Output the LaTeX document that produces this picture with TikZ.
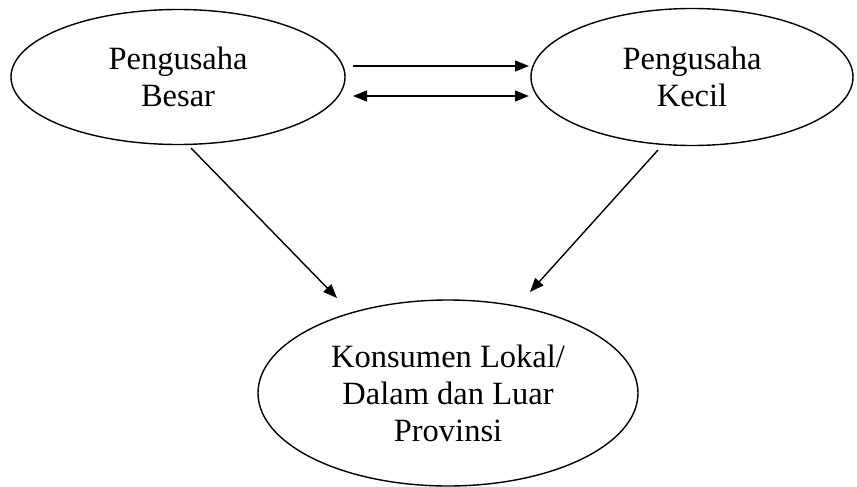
\documentclass[tikz,border=0pt]{standalone}
\usepackage{fontspec}
\setmainfont{Liberation Serif}
\usetikzlibrary{shapes.geometric,arrows.meta}
\begin{document}
\begin{tikzpicture}[x=1pt,y=-1pt,
  oval/.style={draw, ellipse, line width=1.4pt, inner sep=0pt, align=center,
    font=\fontsize{32.5}{37}\selectfont},
  conn/.style={line width=1.4pt, -{Triangle[length=14pt,width=11pt]}},
  dconn/.style={line width=1.4pt, {Triangle[length=14pt,width=11pt]}-{Triangle[length=14pt,width=11pt]}}]
\useasboundingbox (0,0) rectangle (857,487);
\node[oval, minimum width=334pt, minimum height=135pt] (besar) at (178,77) {Pengusaha\\Besar};
\node[oval, minimum width=322pt, minimum height=137pt] (kecil) at (692,77) {Pengusaha\\Kecil};
\node[oval, minimum width=380pt, minimum height=186pt] (kons) at (448,393) {Konsumen Lokal/\\Dalam dan Luar\\Provinsi};
\coordinate (t1s) at (353,66);
\coordinate (t1e) at (529,66);
\coordinate (t2s) at (353,96);
\coordinate (t2e) at (529,96);
\coordinate (d1s) at (191,148);
\coordinate (d1e) at (337,298);
\coordinate (d2s) at (658,150);
\coordinate (d2e) at (530,292);
\draw[conn] (t1s) -- (t1e);
\draw[dconn] (t2s) -- (t2e);
\draw[conn] (d1s) -- (d1e);
\draw[conn] (d2s) -- (d2e);
\end{tikzpicture}
\end{document}
